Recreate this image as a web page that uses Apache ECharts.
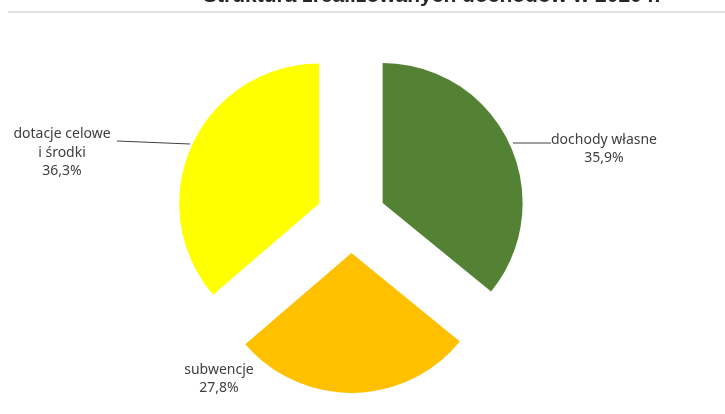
<!DOCTYPE html>
<html><head><meta charset="utf-8">
<script src="https://cdn.jsdelivr.net/npm/echarts@6/dist/echarts.min.js"></script>
<style>html,body{margin:0;padding:0;background:#fff}#c{width:725px;height:414px}</style>
</head><body><div id="c"></div>
<script>
const categories = ['dochody własne', 'subwencje', 'dotacje celowe\ni środki'];
const values = [35.9, 27.8, 36.3];
const colors = ['#548235', '#FFC000', '#FFFF00'];
const title = 'Struktura zrealizowanych dochodów w 2020 r.';

// label layout (text centre + leader line), not data
const labelBoxes = [
  {x: 604, y: 149, line: [[513, 143], [551, 143]]},
  {x: 62, y: 153, line: null},
  {x: 62, y: 153, line: [[117, 141], [190, 144]]}
];
labelBoxes[1] = {x: 219, y: 379, line: null};

const fmt = (name, v) => name + '\n' + v.toFixed(1).replace('.', ',') + '%';

const graphics = [
  {type: 'text', left: 203, top: -14, style: {text: title, font: 'bold 21px "Liberation Sans"', fill: '#262626'}},
  {type: 'line', shape: {x1: 8, y1: 12, x2: 725, y2: 12}, style: {stroke: '#d9d9d9', lineWidth: 1.5}}
];
categories.forEach((c, i) => {
  const b = labelBoxes[i];
  graphics.push({type: 'text', x: b.x, y: b.y, style: {
    text: fmt(c, values[i]), font: '14px "Noto Sans"', fill: '#404040',
    align: 'center', verticalAlign: 'middle', lineHeight: 18.5
  }});
  if (b.line) graphics.push({type: 'polyline', shape: {points: b.line}, style: {stroke: '#404040', lineWidth: 1}});
});

const chart = echarts.init(document.getElementById('c'));
chart.setOption({
  animation: false,
  graphic: graphics,
  series: [{
    type: 'pie',
    center: [351, 218],
    radius: 140,
    startAngle: 90,
    clockwise: true,
    selectedMode: 'multiple',
    selectedOffset: 35,
    emphasis: {disabled: true},
    label: {show: false},
    labelLine: {show: false},
    data: categories.map((c, i) => ({
      name: c, value: values[i], selected: true,
      itemStyle: {color: colors[i]}
    }))
  }]
});
</script></body></html>
